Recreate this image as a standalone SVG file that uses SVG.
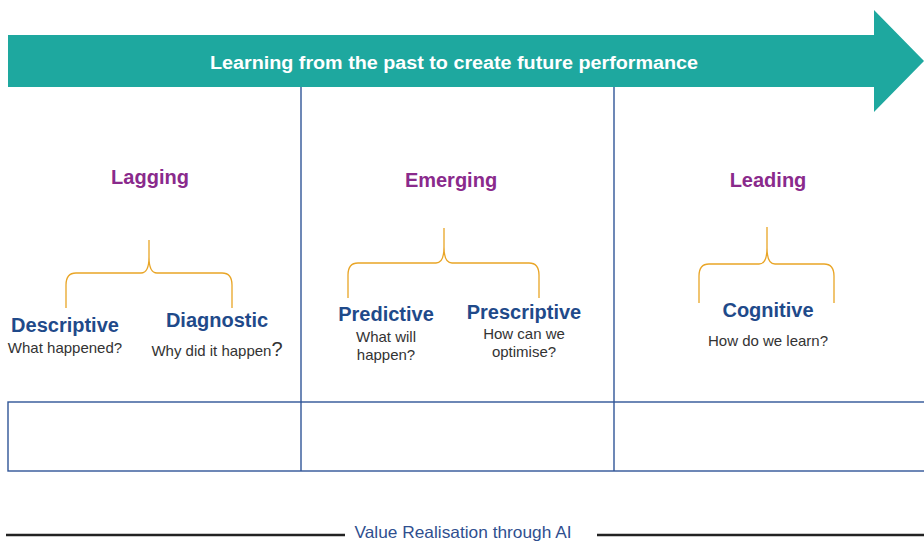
<svg xmlns="http://www.w3.org/2000/svg" width="924" height="542" viewBox="0 0 924 542">
<style>
.t{font-family:"Liberation Sans",Arial,sans-serif;}
.title{font-size:20px;font-weight:bold;fill:#8a2a8c;text-anchor:middle;}
.lbl{font-size:20px;font-weight:bold;fill:#1f4a8a;text-anchor:middle;}
.sub{font-size:15px;fill:#333;text-anchor:middle;}
.grid{stroke:#2f5597;stroke-width:1.4;fill:none;}
.brace{stroke:#e9a526;stroke-width:1.3;fill:none;}
</style>
<rect width="924" height="542" fill="#fff"/>
<g id="arrow">
<polygon points="8,35 874,35 874,10 924,61 874,112 874,87 8,87" fill="#1ea89f"/>
<text class="t" x="454" y="69" font-size="17.5" font-weight="bold" fill="#fff" text-anchor="middle" textLength="488" lengthAdjust="spacingAndGlyphs">Learning from the past to create future performance</text>
</g>
<g id="grid">
<line class="grid" x1="301" y1="87" x2="301" y2="471"/>
<line class="grid" x1="614" y1="87" x2="614" y2="471"/>
<rect class="grid" x="8" y="402" width="918" height="69"/>
</g>
<g id="lagging">
<text class="t title" x="150" y="184">Lagging</text>
<path class="brace" d="M66,308 L66,285 Q66,273 76,273 L141,273 Q149,273 149,257 L149,240 M149,257 Q149,273 157,273 L222,273 Q232,273 232,285 L232,308"/>
</g>
<g id="descriptive">
<text class="t lbl" x="65" y="332">Descriptive</text>
<text class="t sub" x="65" y="353">What happened?</text>
</g>
<g id="diagnostic">
<text class="t lbl" x="217" y="327">Diagnostic</text>
<text class="t sub" x="217" y="356">Why did it happen<tspan font-size="20">?</tspan></text>
</g>
<g id="emerging">
<text class="t title" x="451" y="187">Emerging</text>
<path class="brace" d="M348,298 L348,275 Q348,263 358,263 L436,263 Q444,263 444,247 L444,228 M444,247 Q444,263 452,263 L529,263 Q539,263 539,275 L539,298"/>
</g>
<g id="predictive">
<text class="t lbl" x="386" y="321" font-size="18">Predictive</text>
<text class="t sub" x="386" y="342">What will</text>
<text class="t sub" x="386" y="360">happen?</text>
</g>
<g id="prescriptive">
<text class="t lbl" x="524" y="319" font-size="19.5">Prescriptive</text>
<text class="t sub" x="524" y="339">How can we</text>
<text class="t sub" x="524" y="357">optimise?</text>
</g>
<g id="leading">
<text class="t title" x="768" y="187">Leading</text>
<path class="brace" d="M699,303 L699,276 Q699,264 709,264 L759,264 Q767,264 767,248 L767,227 M767,248 Q767,264 775,264 L824,264 Q834,264 834,276 L834,303"/>
</g>
<g id="cognitive">
<text class="t lbl" x="768" y="317">Cognitive</text>
<text class="t sub" x="768" y="346">How do we learn?</text>
</g>
<g id="footer">
<line x1="6" y1="535" x2="345" y2="535" stroke="#222" stroke-width="2.5"/>
<line x1="597" y1="535" x2="924" y2="535" stroke="#222" stroke-width="2.5"/>
<text class="t" x="463" y="538" font-size="16.5" fill="#2f4f8f" text-anchor="middle" textLength="217" lengthAdjust="spacingAndGlyphs">Value Realisation through AI</text>
</g>
</svg>
